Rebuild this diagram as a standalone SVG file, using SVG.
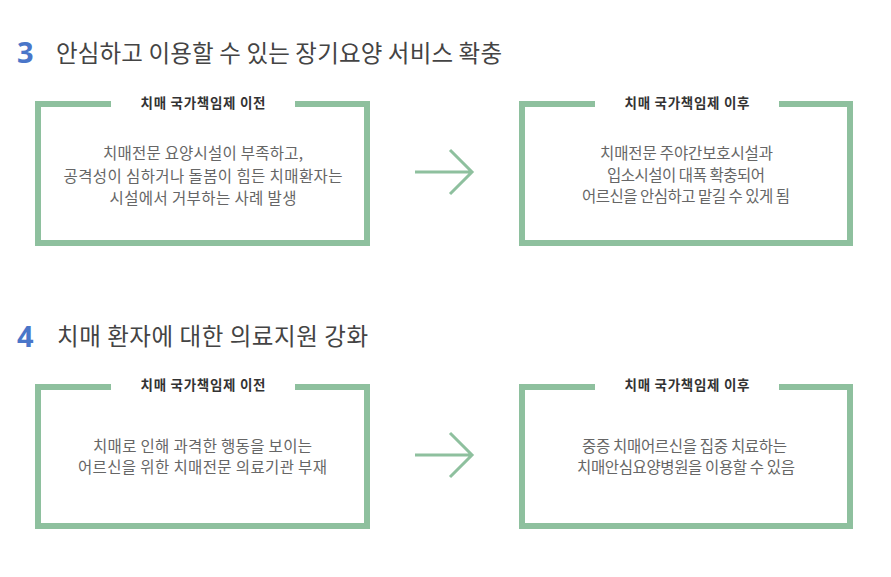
<svg xmlns="http://www.w3.org/2000/svg" width="891" height="577" viewBox="0 0 891 577">
<style>
.num{font-family:"Noto Sans","Noto Sans CJK KR",sans-serif;font-size:29px;font-weight:bold;fill:#4a76c9}
.h{font-family:"Noto Sans CJK KR",sans-serif;font-size:23.5px;fill:#444}
.lab{font-family:"Noto Sans CJK KR",sans-serif;font-size:13.5px;font-weight:bold;fill:#333;text-anchor:middle}
.t{font-family:"Noto Sans CJK KR",sans-serif;font-size:15.5px;fill:#666;text-anchor:middle}
.box{fill:none;stroke:#8ec09e;stroke-width:6}
.arr{fill:none;stroke:#8ec09e;stroke-width:3}
</style>
<rect width="891" height="577" fill="#fff"/>
<g id="heading3"><text class="num" x="17" y="63">3</text><text class="h" x="56" y="62" textLength="446" lengthAdjust="spacing">안심하고 이용할 수 있는 장기요양 서비스 확충</text></g>
<g id="heading4"><text class="num" x="17" y="347">4</text><text class="h" x="57" y="345" textLength="311" lengthAdjust="spacing">치매 환자에 대한 의료지원 강화</text></g>
<g id="box3a">
<path class="box" d="M111 104H38V243H367V104H295"/>
<text class="lab" x="203" y="108" textLength="125" lengthAdjust="spacing">치매 국가책임제 이전</text>
<text class="t" x="203" y="159" textLength="200" lengthAdjust="spacing">치매전문 요양시설이 부족하고,</text>
<text class="t" x="203" y="181.5" textLength="279" lengthAdjust="spacing">공격성이 심하거나 돌봄이 힘든 치매환자는</text>
<text class="t" x="203" y="204" textLength="187" lengthAdjust="spacing">시설에서 거부하는 사례 발생</text>
</g>
<g id="box3b">
<path class="box" d="M595 104H522V243H850V104H779"/>
<text class="lab" x="687" y="108" textLength="125" lengthAdjust="spacing">치매 국가책임제 이후</text>
<text class="t" x="686.5" y="159" textLength="173" lengthAdjust="spacing">치매전문 주야간보호시설과</text>
<text class="t" x="686" y="180.5" textLength="158" lengthAdjust="spacing">입소시설이 대폭 확충되어</text>
<text class="t" x="686" y="202" textLength="208" lengthAdjust="spacing">어르신을 안심하고 맡길 수 있게 됨</text>
</g>
<g id="box4a">
<path class="box" d="M111 387H38V526H367V387H295"/>
<text class="lab" x="203" y="390" textLength="125" lengthAdjust="spacing">치매 국가책임제 이전</text>
<text class="t" x="202.5" y="452" textLength="219" lengthAdjust="spacing">치매로 인해 과격한 행동을 보이는</text>
<text class="t" x="202.5" y="473" textLength="249" lengthAdjust="spacing">어르신을 위한 치매전문 의료기관 부재</text>
</g>
<g id="box4b">
<path class="box" d="M595 387H522V526H850V387H779"/>
<text class="lab" x="687" y="390" textLength="125" lengthAdjust="spacing">치매 국가책임제 이후</text>
<text class="t" x="684.5" y="452" textLength="205" lengthAdjust="spacing">중증 치매어르신을 집중 치료하는</text>
<text class="t" x="686" y="473" textLength="218" lengthAdjust="spacing">치매안심요양병원을 이용할 수 있음</text>
</g>
<g id="connectors">
<path class="arr" d="M415 172H472M450 150L472 172L450 194"/>
<path class="arr" d="M415 455H472M450 433L472 455L450 477"/>
</g>
</svg>
